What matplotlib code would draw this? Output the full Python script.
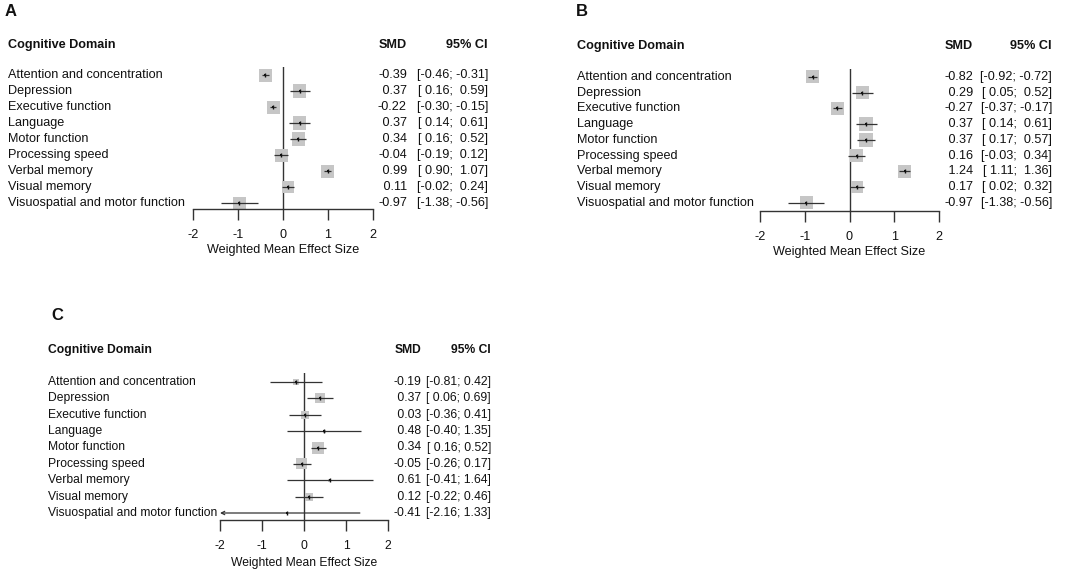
import numpy as np
import matplotlib
matplotlib.use("Agg")
import matplotlib.pyplot as plt
from matplotlib.transforms import blended_transform_factory

plt.rcParams['font.family'] = ['Liberation Sans', 'DejaVu Sans']

# ---------------- data ----------------
domains = ["Attention and concentration", "Depression", "Executive function",
           "Language", "Motor function", "Processing speed", "Verbal memory",
           "Visual memory", "Visuospatial and motor function"]
tick_values = [-2, -1, 0, 1, 2]
tick_labels = ["-2", "-1", "0", "1", "2"]

smd_A = [-0.39, 0.37, -0.22, 0.37, 0.34, -0.04, 0.99, 0.11, -0.97]
lo_A = [-0.46, 0.16, -0.30, 0.14, 0.16, -0.19, 0.90, -0.02, -1.38]
hi_A = [-0.31, 0.59, -0.15, 0.61, 0.52, 0.12, 1.07, 0.24, -0.56]
weight_A = [13, 13.5, 13, 13.5, 13.5, 13, 13, 12.5, 13]

smd_B = [-0.82, 0.29, -0.27, 0.37, 0.37, 0.16, 1.24, 0.17, -0.97]
lo_B = [-0.92, 0.05, -0.37, 0.14, 0.17, -0.03, 1.11, 0.02, -1.38]
hi_B = [-0.72, 0.52, -0.17, 0.61, 0.57, 0.34, 1.36, 0.32, -0.56]
weight_B = [13, 13.5, 13, 13.5, 13.5, 13.5, 13, 12.5, 13]

smd_C = [-0.19, 0.37, 0.03, 0.48, 0.34, -0.05, 0.61, 0.12, -0.41]
lo_C = [-0.81, 0.06, -0.36, -0.40, 0.16, -0.26, -0.41, -0.22, -2.16]
hi_C = [0.42, 0.69, 0.41, 1.35, 0.52, 0.17, 1.64, 0.46, 1.33]
weight_C = [6, 10, 8, 3, 12, 11, 3, 8, 2]

# ---------------- layout ----------------
W, H = 1084, 578
fig = plt.figure(figsize=(W / 100, H / 100), dpi=100)

def fx(px):
    return px / W

def fy(py):
    return 1 - py / H

SQ = '#c6c6c6'
LN = '#333333'
TX = '#111111'

panels = [
    dict(tag="A", smd=smd_A, lo=lo_A, hi=hi_A, w=weight_A,
         tag_xy=(11, 11), head_y=45, lab_x=8, r0=75, r1=203,
         x0=193, x1=373, axis_y=209, top_y=67, xlab_y=250,
         smd_x=407, ci_x=488, fs=9.1),
    dict(tag="B", smd=smd_B, lo=lo_B, hi=hi_B, w=weight_B,
         tag_xy=(582, 11), head_y=46, lab_x=577, r0=77, r1=203,
         x0=760, x1=939, axis_y=211, top_y=69, xlab_y=252,
         smd_x=973, ci_x=1052, fs=9.1),
    dict(tag="C", smd=smd_C, lo=lo_C, hi=hi_C, w=weight_C,
         tag_xy=(57, 315), head_y=350, lab_x=48, r0=382, r1=513,
         x0=220, x1=388, axis_y=520, top_y=373, xlab_y=563,
         smd_x=421, ci_x=491, fs=8.7),
]

def fmt_col(vals):
    s = [f"{v:.2f}" for v in vals]
    w = max(len(x) for x in s)
    return [x.rjust(w) for x in s]

for p in panels:
    n = len(domains)
    ax = fig.add_axes([fx(p['x0']), fy(p['axis_y']),
                       (p['x1'] - p['x0']) / W, (p['axis_y'] - p['top_y']) / H])
    sp = (p['r1'] - p['r0']) / (n - 1)
    ax.set_ylim(n - 1 + (p['axis_y'] - p['r1']) / sp, (p['top_y'] - p['r0']) / sp)
    ax.set_xlim(-2, 2)
    ypos = np.arange(n)
    ax.axvline(0, color=LN, lw=1.0, zorder=1)

    sizes = [(wpx * 0.72) ** 2 for wpx in p['w']]
    ax.scatter(p['smd'], ypos, marker='s', s=sizes, color=SQ, lw=0,
               zorder=2, clip_on=False)
    for i in range(n):
        lo, hi = p['lo'][i], p['hi'][i]
        if lo < -2 or hi > 2:
            ax.annotate('', xy=(max(lo, -2), i), xytext=(min(hi, 2), i),
                        arrowprops=dict(arrowstyle='->', color=LN, lw=0.9,
                                        shrinkA=0, shrinkB=0,
                                        mutation_scale=6),
                        annotation_clip=False)
        else:
            ax.hlines(i, lo, hi, color=LN, lw=0.9, zorder=3)
    ax.scatter(p['smd'], ypos, marker='|', s=10, color=TX, lw=1.0,
               zorder=4, clip_on=False)
    ax.scatter(p['smd'], ypos, marker='s', s=3, color=TX, lw=0,
               zorder=4, clip_on=False)

    for side in ['top', 'right', 'left']:
        ax.spines[side].set_visible(False)
    ax.spines['bottom'].set_color(LN)
    ax.spines['bottom'].set_linewidth(1.0)
    ax.set_yticks([])
    ax.set_xticks(tick_values)
    ax.set_xticklabels(tick_labels)
    ax.tick_params(axis='x', length=8, width=1.0, color=LN, pad=6.5,
                   labelsize=p['fs'], labelcolor=TX)
    ax.patch.set_visible(False)

    trans = blended_transform_factory(fig.transFigure, ax.transData)
    smd_s = fmt_col(p['smd'])
    lo_s = fmt_col(p['lo'])
    hi_s = fmt_col(p['hi'])
    for i, d in enumerate(domains):
        ax.text(fx(p['lab_x']), i, d, transform=trans, ha='left', va='center',
                fontsize=p['fs'], color=TX)
        ax.text(fx(p['smd_x']), i, smd_s[i], transform=trans, ha='right',
                va='center', fontsize=p['fs'], color=TX)
        ax.text(fx(p['ci_x']), i, f"[{lo_s[i]}; {hi_s[i]}]", transform=trans,
                ha='right', va='center', fontsize=p['fs'], color=TX)

    fig.text(fx(p['lab_x']), fy(p['head_y']), "Cognitive Domain", ha='left',
             va='center', fontsize=p['fs'], fontweight='bold', color=TX)
    fig.text(fx(p['smd_x']), fy(p['head_y']), "SMD", ha='right', va='center',
             fontsize=p['fs'], fontweight='bold', color=TX)
    fig.text(fx(p['ci_x']), fy(p['head_y']), "95% CI", ha='right', va='center',
             fontsize=p['fs'], fontweight='bold', color=TX)
    fig.text(fx((p['x0'] + p['x1']) / 2), fy(p['xlab_y']),
             "Weighted Mean Effect Size", ha='center', va='center',
             fontsize=p['fs'], color=TX)
    fig.text(fx(p['tag_xy'][0]), fy(p['tag_xy'][1]), p['tag'], ha='center',
             va='center', fontsize=12, fontweight='bold', color=TX)

fig.savefig("out.png", dpi=100)
